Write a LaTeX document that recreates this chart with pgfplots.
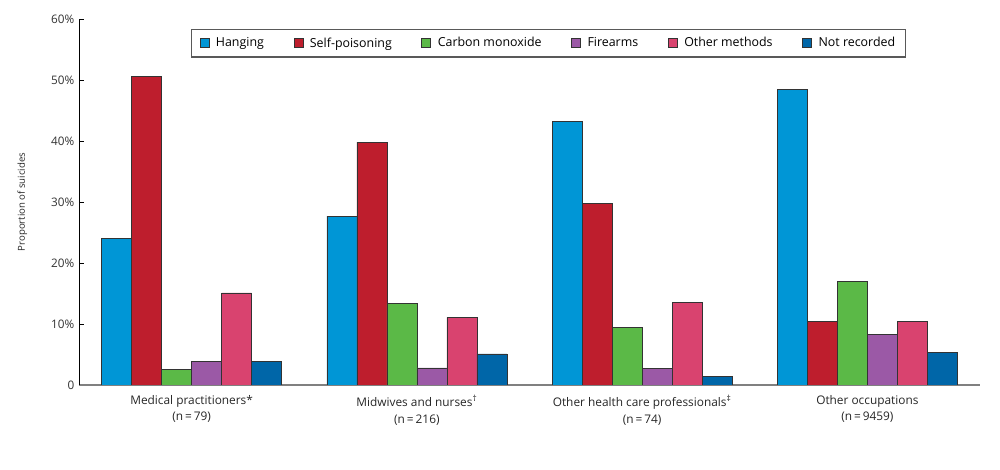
\documentclass[border=0pt]{standalone}
\usepackage{fontspec}
\setmainfont{Open Sans}
\usepackage{pgfplots}
\usepackage{pgfplotstable}
\pgfplotsset{compat=1.18}
\definecolor{cHang}{HTML}{0096D6}
\definecolor{cSelf}{HTML}{BE1E2D}
\definecolor{cCO}{HTML}{5BB947}
\definecolor{cFire}{HTML}{9B59A6}
\definecolor{cOther}{HTML}{D9436F}
\definecolor{cNR}{HTML}{0066A8}
\pgfplotstableread{
x hang self co fire other nr
0 24.0 50.6 2.5 3.8 15.1 3.8
1 27.7 39.8 13.4 2.8 11.1 5.1
2 43.2 29.7 9.4 2.7 13.5 1.4
3 48.4 10.4 17.0 8.3 10.4 5.4
}\datatable
\begin{document}
\begin{tikzpicture}
\useasboundingbox (0pt,0pt) rectangle (750pt,352.5pt);
\begin{axis}[
  at={(59.25pt,63.75pt)}, anchor=south west,
  scale only axis, width=675.75pt, height=274.5pt,
  ybar=0pt, bar width=22.5pt,
  legend image code/.code={\draw[#1, draw=black!80, line width=0.5pt] (0pt,-3.4pt) rectangle (6.8pt,3.4pt);},
  xmin=-0.5, xmax=3.5, ymin=0, ymax=60,
  axis x line*=bottom, axis y line*=left,
  x axis line style={draw=black!50, line width=1.2pt},
  y axis line style={draw=black, line width=0.7pt},
  xtick={0,1,2,3},
  xticklabels={{Medical practitioners*\\(n\,=\,79)},{Midwives and nurses\textsuperscript{\dag}\\(n\,=\,216)},{Other health care professionals\textsuperscript{\ddag}\\(n\,=\,74)},{Other occupations\\(n\,=\,9459)}},
  xticklabel style={align=center, font=\fontsize{8.9}{12.5}\selectfont, text=black!85, yshift=-4pt},
  x tick style={draw=none},
  ytick={0,10,20,30,40,50,60},
  yticklabels={0,10\%,20\%,30\%,40\%,50\%,60\%},
  yticklabel style={font=\fontsize{8.8}{10}\selectfont, text=black!80},
  y tick style={black, line width=0.7pt},
  tick align=inside, major tick length=3.5pt,
  ylabel={Proportion of suicides},
  ylabel style={at={(axis description cs:-0.063,0.5)}, anchor=center, font=\fontsize{7.2}{9}\selectfont, text=black!85},
  legend columns=6,
  legend style={at={(0.1243,0.9727)}, anchor=north west, draw=black!65, line width=0.8pt,
    font=\fontsize{9.3}{11}\selectfont, inner xsep=6pt, inner ysep=4pt,
    /tikz/every odd column/.append style={column sep=3pt},
    /tikz/every even column/.append style={column sep=20.2pt}},
  every axis plot/.append style={draw=black!80, line width=0.5pt},
]
\addplot[fill=cHang] table[x=x,y=hang]{\datatable};
\addplot[fill=cSelf] table[x=x,y=self]{\datatable};
\addplot[fill=cCO] table[x=x,y=co]{\datatable};
\addplot[fill=cFire] table[x=x,y=fire]{\datatable};
\addplot[fill=cOther] table[x=x,y=other]{\datatable};
\addplot[fill=cNR] table[x=x,y=nr]{\datatable};
\legend{Hanging,Self-poisoning,Carbon monoxide,Firearms,Other methods,Not recorded}
\end{axis}
\end{tikzpicture}
\end{document}
